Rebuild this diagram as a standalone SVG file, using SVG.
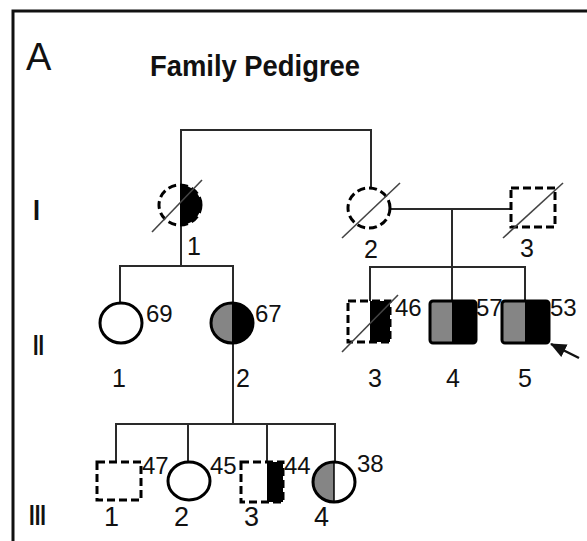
<svg xmlns="http://www.w3.org/2000/svg" width="587" height="541" viewBox="0 0 587 541">
<style>
text{font-family:"Liberation Sans",Arial,sans-serif;fill:#111}
.lbl{font-size:25px}
.age{font-size:24px}
.gen{font-size:30px;font-weight:bold}
.con{stroke:#2a2a2a;stroke-width:2;fill:none}
.sh{stroke:#000;stroke-width:3;fill:#fff}
.sho{stroke:#000;stroke-width:3;fill:none}
.dsh{stroke:#000;stroke-width:3;fill:none;stroke-dasharray:8 4}
.slash{stroke:#444;stroke-width:1.6}
.blk{fill:#000}
.gry{fill:#858585}
</style>
<defs>
<marker id="ah" markerWidth="16" markerHeight="14" refX="15" refY="7" orient="auto" markerUnits="userSpaceOnUse">
<path d="M0,0 L16,7 L0,14 Z" fill="#111"/>
</marker>
</defs>
<rect width="587" height="541" fill="#fff"/>
<path d="M13,541 V11 H587" fill="none" stroke="#111" stroke-width="3"/>
<text x="26" y="70" style="font-size:38px">A</text>
<text x="150" y="76" style="font-size:30px;font-weight:bold" textLength="210" lengthAdjust="spacingAndGlyphs">Family Pedigree</text>
<text class="gen" x="33" y="220" textLength="7" lengthAdjust="spacingAndGlyphs">I</text>
<text class="gen" x="33" y="355" textLength="11" lengthAdjust="spacingAndGlyphs">II</text>
<text class="gen" x="29" y="525" textLength="17" lengthAdjust="spacingAndGlyphs">III</text>
<g id="connectors">
<path class="con" d="M181,185 V130 H371 V188"/>
<path class="con" d="M390,209 H511"/>
<path class="con" d="M452,209 V267"/>
<path class="con" d="M181,225 V266"/>
<path class="con" d="M120,303 V266 H233 V303"/>
<path class="con" d="M370,301 V267 H525 V301"/>
<path class="con" d="M452,267 V301"/>
<path class="con" d="M233,343 V424"/>
<path class="con" d="M116,462 V424 H335 V462"/>
<path class="con" d="M188,424 V462"/>
<path class="con" d="M267,424 V462"/>
<path d="M579,358 L551,344" stroke="#111" stroke-width="2.5" marker-end="url(#ah)"/>
</g>
<g id="I-1">
<path class="blk" d="M180,185 A21,20 0 0 1 180,225 Z"/>
<ellipse class="dsh" cx="180" cy="205" rx="21" ry="20"/>
<line class="slash" x1="152" y1="232" x2="202" y2="180"/>
<text class="lbl" x="187" y="255">1</text>
</g>
<g id="I-2">
<ellipse class="dsh" cx="369" cy="208" rx="21" ry="20"/>
<line class="slash" x1="342" y1="238" x2="400" y2="183"/>
<text class="lbl" x="364" y="258">2</text>
</g>
<g id="I-3">
<rect class="dsh" x="511" y="188" width="44" height="39"/>
<line class="slash" x1="503" y1="238" x2="563" y2="183"/>
<text class="lbl" x="520" y="257">3</text>
</g>
<g id="II-1">
<ellipse class="sh" cx="121" cy="323" rx="21" ry="20"/>
<text class="age" x="146" y="322">69</text>
<text class="lbl" x="112" y="387">1</text>
</g>
<g id="II-2">
<path class="gry" d="M232,303 A21,20 0 0 0 232,343 Z"/>
<path class="blk" d="M232,303 A21,20 0 0 1 232,343 Z"/>
<ellipse class="sho" cx="232" cy="323" rx="21" ry="20"/>
<text class="age" x="255" y="322">67</text>
<text class="lbl" x="236" y="387">2</text>
</g>
<g id="II-3">
<rect class="blk" x="370" y="301" width="20" height="41"/>
<rect class="dsh" x="348" y="301" width="42" height="41"/>
<line class="slash" x1="342" y1="352" x2="398" y2="295"/>
<text class="age" x="395" y="316">46</text>
<text class="lbl" x="368" y="387">3</text>
</g>
<g id="II-4">
<rect class="gry" x="430" y="301" width="22" height="42"/>
<rect class="blk" x="452" y="301" width="24" height="42"/>
<rect class="sho" x="430" y="301" width="46" height="42" rx="3"/>
<text class="age" x="476" y="316">57</text>
<text class="lbl" x="446" y="387">4</text>
</g>
<g id="II-5">
<rect class="gry" x="502" y="301" width="23" height="42"/>
<rect class="blk" x="525" y="301" width="24" height="42"/>
<rect class="sho" x="502" y="301" width="47" height="42" rx="3"/>
<text class="age" x="550" y="316">53</text>
<text class="lbl" x="518" y="387">5</text>
</g>
<g id="III-1">
<rect class="dsh" x="97" y="462" width="44" height="38"/>
<text class="age" x="142" y="474">47</text>
<text class="lbl" x="104" y="526" style="font-size:27px">1</text>
</g>
<g id="III-2">
<ellipse class="sh" cx="189" cy="481" rx="21" ry="19"/>
<text class="age" x="210" y="474">45</text>
<text class="lbl" x="174" y="526" style="font-size:27px">2</text>
</g>
<g id="III-3">
<rect class="blk" x="267" y="462" width="16" height="40"/>
<rect class="dsh" x="241" y="462" width="42" height="40"/>
<text class="age" x="284" y="474">44</text>
<text class="lbl" x="244" y="526" style="font-size:27px">3</text>
</g>
<g id="III-4">
<path class="gry" d="M334,462 A21,20 0 0 0 334,502 Z"/>
<ellipse class="sho" cx="334" cy="482" rx="21" ry="20"/>
<line x1="334" y1="462" x2="334" y2="502" stroke="#000" stroke-width="1.5"/>
<text class="age" x="357" y="472">38</text>
<text class="lbl" x="314" y="526" style="font-size:27px">4</text>
</g>
</svg>
